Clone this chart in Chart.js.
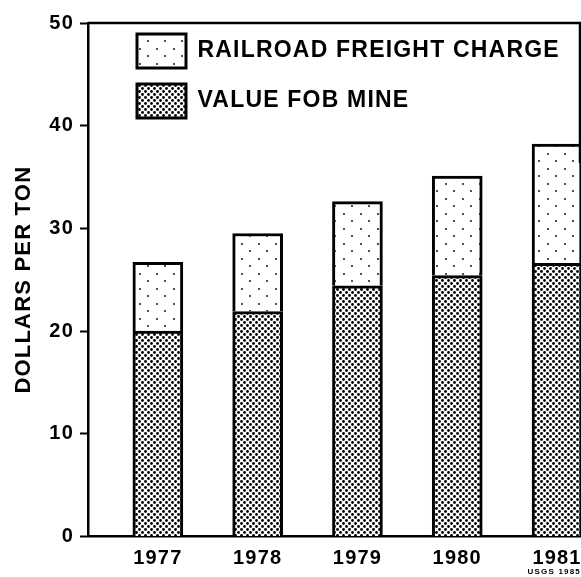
<!DOCTYPE html>
<html>
<head>
<meta charset="utf-8">
<script src="https://cdn.jsdelivr.net/npm/chart.js@4/dist/chart.umd.min.js"></script>
<style>
  html, body { margin: 0; padding: 0; background: #fff; }
  canvas { display: block; }
</style>
</head>
<body>
<canvas id="coalChart" width="581" height="577"></canvas>
<script>
    // Chart data (dollars per ton)
    const years = [1977, 1978, 1979, 1980, 1981];
    const valueFobMine = [20.0, 21.9, 24.4, 25.4, 26.6];
    const railroadFreight = [6.7, 7.6, 8.2, 9.7, 11.6];
    const yTicks = [0, 10, 20, 30, 40, 50];

    const canvas = document.getElementById('coalChart');
    const ctx = canvas.getContext('2d');

    // Dotted fills like the printed screen tones
    function dotPattern(w, h, dots, r) {
        const tile = document.createElement('canvas');
        tile.width = w;
        tile.height = h;
        const g = tile.getContext('2d');
        g.fillStyle = '#fff';
        g.fillRect(0, 0, w, h);
        g.fillStyle = '#000';
        dots.forEach(([x, y]) => {
            g.beginPath();
            g.arc(x, y, r, 0, Math.PI * 2);
            g.fill();
        });
        return ctx.createPattern(tile, 'repeat');
    }

    const densePattern = dotPattern(6, 6, [[1.5, 1.5], [4.5, 4.5]], 1.4);
    const sparsePattern = dotPattern(17, 15, [[4, 4], [12, 11]], 0.9);

    Chart.defaults.font.family = "'Liberation Sans', Arial, sans-serif";
    Chart.defaults.font.weight = 'bold';
    Chart.defaults.color = '#000';

    // wider letter spacing, like the original lettering
    const letterSpacing = {
        id: 'letterSpacing',
        beforeUpdate(chart) { chart.ctx.letterSpacing = '1.2px'; },
        beforeDraw(chart) { chart.ctx.letterSpacing = '1.2px'; }
    };

    // move the legend into the upper left of the plot
    const legendShift = {
        id: 'legendShift',
        afterLayout(chart) {
            chart.legend.left += 33;
            chart.legend.top += 18;
        }
    };

    // top and right edges of the frame
    const frame = {
        id: 'frame',
        afterDatasetsDraw(chart) {
            const { top, left, right } = chart.chartArea;
            const c = chart.ctx;
            c.save();
            c.strokeStyle = '#000';
            c.lineWidth = 2.5;
            c.beginPath();
            c.moveTo(left, top);
            c.lineTo(right - 1, top);
            c.lineTo(right - 1, top + 140);
            c.stroke();
            c.restore();
        }
    };

    const config = {
        type: 'bar',
        data: {
            datasets: [{
                label: 'VALUE FOB MINE',
                data: years.map((y, i) => ({ x: y, y: valueFobMine[i] })),
                backgroundColor: densePattern,
                borderColor: '#000',
                borderWidth: 3,
                barThickness: 50
            }, {
                label: 'RAILROAD FREIGHT CHARGE',
                data: years.map((y, i) => ({ x: y, y: railroadFreight[i] })),
                backgroundColor: sparsePattern,
                borderColor: '#000',
                borderWidth: 3,
                barThickness: 50
            }]
        },
        options: {
            responsive: false,
            animation: false,
            layout: {
                padding: { top: 23, right: 0, bottom: 0, left: 0 }
            },
            plugins: {
                legend: {
                    position: 'chartArea',
                    align: 'start',
                    reverse: true,
                    labels: {
                        boxWidth: 49,
                        boxHeight: 34,
                        padding: 16,
                        color: '#000',
                        font: { size: 23, weight: 'bold' }
                    }
                },
                subtitle: {
                    display: true,
                    text: 'USGS 1985',
                    position: 'bottom',
                    align: 'end',
                    font: { size: 8, weight: 'bold' },
                    padding: { top: 0, bottom: 0 }
                },
                tooltip: { enabled: false }
            },
            scales: {
                x: {
                    type: 'linear',
                    stacked: true,
                    offset: false,
                    min: 1976.3,
                    max: 1981.24,
                    afterBuildTicks: scale => {
                        scale.ticks = years.map(v => ({ value: v }));
                    },
                    afterFit: scale => {
                        scale.height = 31;
                        scale.paddingLeft = 0;
                        scale.paddingRight = 0;
                    },
                    ticks: {
                        autoSkip: false,
                        maxRotation: 0,
                        padding: 2,
                        font: { size: 20, weight: 'bold' },
                        callback: v => String(v)
                    },
                    grid: { display: false },
                    border: { color: '#000', width: 2.5 }
                },
                y: {
                    stacked: true,
                    min: 0,
                    max: 50,
                    afterBuildTicks: scale => {
                        scale.ticks = yTicks.map(v => ({ value: v }));
                    },
                    afterFit: scale => {
                        scale.width = 88;
                    },
                    ticks: {
                        padding: 6,
                        font: { size: 20, weight: 'bold' }
                    },
                    grid: {
                        drawOnChartArea: false,
                        drawTicks: true,
                        tickLength: 8,
                        tickWidth: 2,
                        tickColor: '#000'
                    },
                    border: { color: '#000', width: 2.5 },
                    title: {
                        display: true,
                        text: 'DOLLARS PER TON',
                        color: '#000',
                        font: { size: 22, weight: 'bold' },
                        padding: { top: 11, bottom: 0 }
                    }
                }
            }
        },
        plugins: [letterSpacing, legendShift, frame]
    };

    new Chart(ctx, config);
</script>
</body>
</html>
